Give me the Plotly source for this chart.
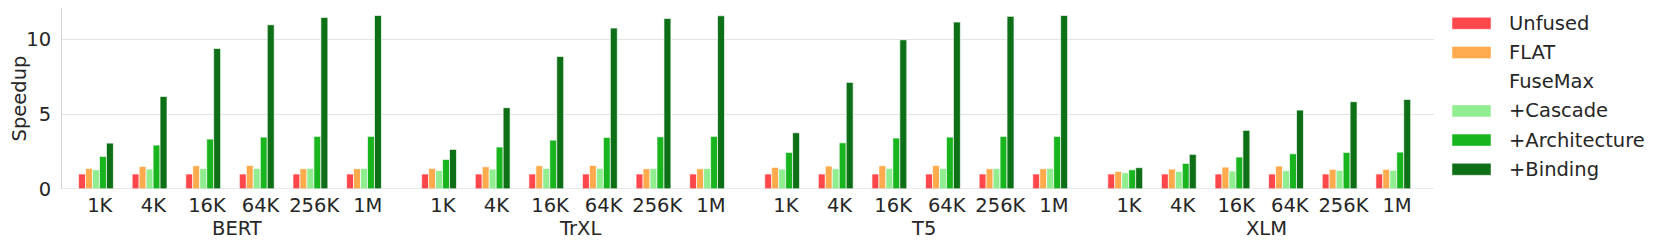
import plotly.graph_objects as go

models = ["BERT", "TrXL", "T5", "XLM"]
seq_lens = ["1K", "4K", "16K", "64K", "256K", "1M"]
series_names = ["Unfused", "FLAT", "+Cascade", "+Architecture", "+Binding"]
colors = ["#FF474C", "#FFAA4C", "#90EE90", "#18B51F", "#0E7016"]

# speedup values, one list per series, ordered model by model then seq len
unfused = [1.0] * 24
flat = [1.37, 1.50, 1.55, 1.57, 1.35, 1.35,
        1.37, 1.48, 1.55, 1.57, 1.35, 1.35,
        1.44, 1.53, 1.55, 1.57, 1.35, 1.35,
        1.17, 1.33, 1.46, 1.53, 1.31, 1.31]
cascade = [1.28, 1.33, 1.37, 1.37, 1.37, 1.37,
           1.24, 1.33, 1.37, 1.37, 1.37, 1.37,
           1.33, 1.35, 1.37, 1.37, 1.37, 1.37,
           1.08, 1.17, 1.20, 1.22, 1.24, 1.24]
architecture = [2.17, 2.93, 3.33, 3.46, 3.51, 3.51,
                1.97, 2.80, 3.26, 3.44, 3.48, 3.51,
                2.44, 3.08, 3.40, 3.46, 3.51, 3.51,
                1.28, 1.71, 2.13, 2.35, 2.44, 2.46]
binding = [3.06, 6.17, 9.37, 10.95, 11.44, 11.57,
           2.64, 5.42, 8.84, 10.73, 11.37, 11.55,
           3.75, 7.11, 9.95, 11.13, 11.51, 11.57,
           1.42, 2.31, 3.91, 5.26, 5.82, 5.97]
series_values = [unfused, flat, cascade, architecture, binding]

legend_labels = ["Unfused", "FLAT", "FuseMax", "+Cascade", "+Architecture", "+Binding"]
legend_colors = ["#FF474C", "#FFAA4C", None, "#90EE90", "#18B51F", "#0E7016"]

# layout constants (page body has an 8px margin, so the figure is offset by 8px)
OFF = 8
MODEL_STRIDE = 6.4
BAR_W = 0.13
FONT = "DejaVu Sans"
TXT = "#262626"
FS = 19.5
W, H = 1661 - OFF, 246 - OFF
L, R, T, B = 62 - OFF, 227, 0, 57
pw = W - L - R
ph = H - T - B

xs = [mi * MODEL_STRIDE + si for mi in range(len(models)) for si in range(len(seq_lens))]

fig = go.Figure()
n = len(series_names)
for k, (name, vals, col) in enumerate(zip(series_names, series_values, colors)):
    fig.add_trace(go.Bar(
        x=xs, y=vals, name=name,
        width=BAR_W, offset=(k - n / 2) * BAR_W,
        marker=dict(color=col, line=dict(color="rgba(255,255,255,0.85)", width=0.8)),
        showlegend=False,
    ))

tickvals = [x + 0.07 for x in xs]
ticktext = [seq_lens[i % len(seq_lens)] for i in range(len(xs))]

fig.update_layout(
    width=W, height=H,
    margin=dict(l=L, r=R, t=T, b=B, pad=0),
    paper_bgcolor="white", plot_bgcolor="white",
    barmode="overlay",
    font=dict(family=FONT, size=FS, color=TXT),
    xaxis=dict(
        range=[-0.634, 24.96], tickvals=tickvals, ticktext=ticktext,
        showgrid=False, zeroline=False, showline=False, ticks="",
        tickfont=dict(size=FS, color=TXT), ticklabelstandoff=2,
    ),
    yaxis=dict(
        range=[0, ph / 15.0], tickvals=[0, 5, 10], showgrid=True, gridcolor="#E3E3E3", gridwidth=1,
        zeroline=False, showline=True, linecolor="#D4D4D4", linewidth=1, ticks="",
        tickfont=dict(size=FS, color=TXT), ticklabelstandoff=6,
        title=dict(text="Speedup", font=dict(size=FS, color=TXT), standoff=6),
    ),
    showlegend=False,
)

# bottom spine along baseline
fig.add_shape(type="line", xref="paper", yref="y", x0=0, x1=1, y0=0, y1=0,
              line=dict(color="#D4D4D4", width=1.2), layer="above")


def px2x(px):
    return (px - OFF - L) / pw


def py2y(py):
    return (H - B - (py - OFF)) / ph


# model group labels
for mi, m in enumerate(models):
    cx = mi * MODEL_STRIDE + (len(seq_lens) - 1) / 2 + 0.13
    fig.add_annotation(x=cx, xref="x", y=py2y(228), yref="paper",
                       text=m, showarrow=False, xanchor="center", yanchor="middle",
                       font=dict(size=FS, color=TXT, family=FONT))

# custom legend
leg_y0 = 23.3
leg_dy = 29.2
for i, (lab, col) in enumerate(zip(legend_labels, legend_colors)):
    cy = leg_y0 + i * leg_dy
    if col is not None:
        fig.add_shape(type="rect", xref="paper", yref="paper",
                      x0=px2x(1452), x1=px2x(1491), y0=py2y(cy + 6), y1=py2y(cy - 6),
                      fillcolor=col, line=dict(color="rgba(255,255,255,0.6)", width=0.8))
    fig.add_annotation(x=px2x(1507), xref="paper", y=py2y(cy), yref="paper",
                       text=lab, showarrow=False, xanchor="left", yanchor="middle",
                       font=dict(size=FS, color=TXT, family=FONT))

fig.write_html("out.html")
